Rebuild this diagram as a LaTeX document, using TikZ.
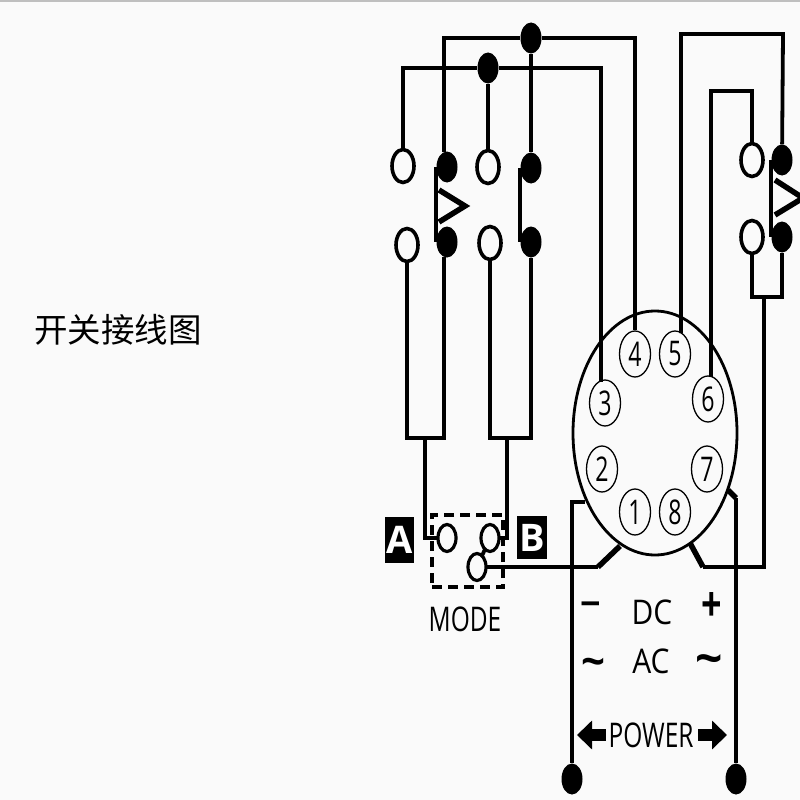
\documentclass[tikz,border=0pt]{standalone}
\usepackage{fontspec}
\usepackage{graphicx}
\setmainfont{Open Sans}
\newfontfamily\cjk{Noto Sans CJK SC}
\usetikzlibrary{shapes.geometric, arrows.meta}
\definecolor{paper}{HTML}{FAFAFA}
\newcommand{\narrow}[2]{\scalebox{#1}[1]{#2}}
\tikzset{
  wire/.style={line width=3.8pt, line join=miter},
  heavy/.style={line width=5.5pt},
  open/.style={draw, ellipse, line width=3.6pt, fill=paper, minimum width=22pt, minimum height=33pt, inner sep=0pt},
  small open/.style={open, line width=3.2pt, minimum width=18pt, minimum height=27pt},
  solid dot/.style={fill=black, ellipse, minimum width=21pt, minimum height=31pt, inner sep=0pt},
  pin/.style={draw, ellipse, line width=1.3pt, fill=paper, minimum width=31pt, minimum height=46pt, inner sep=0pt, font=\fontsize{34}{34}\selectfont},
  tag/.style={fill=black, text=white, inner sep=0pt, font=\fontsize{38}{38}\selectfont\bfseries},
  word/.style={inner sep=0pt, font=\fontsize{34}{34}\selectfont},
  sign/.style={inner sep=0pt, font=\fontsize{36}{36}\selectfont\bfseries}
}
\begin{document}
\begin{tikzpicture}[x=1pt, y=-1pt]
\useasboundingbox (0,0) rectangle (800,800);
\fill[paper] (0,0) rectangle (800,800);
\fill[black!25] (0,0) rectangle (800,2);
% socket
\node[draw, ellipse, line width=2.8pt, minimum width=164pt, minimum height=244pt, inner sep=0pt] (s1) at (655,433) {};
\node[pin] (p1) at (635,512) {\narrow{.68}{1}};
\node[pin] (p2) at (602,469) {\narrow{.68}{2}};
\node[pin] (p3) at (605,403) {\narrow{.68}{3}};
\node[pin] (p4) at (635,354) {\narrow{.68}{4}};
\node[pin] (p5) at (675,354) {\narrow{.68}{5}};
\node[pin] (p6) at (708,399) {\narrow{.68}{6}};
\node[pin] (p7) at (707,469) {\narrow{.68}{7}};
\node[pin] (p8) at (675,512) {\narrow{.68}{8}};
% contacts
\node[open] (t1) at (403,166) {};
\node[solid dot] (t2) at (447,167) {};
\node[open] (t3) at (488,167) {};
\node[solid dot] (t4) at (531,168) {};
\node[open] (t5) at (407,245) {};
\node[solid dot] (t6) at (447,242) {};
\node[open] (t7) at (490,243) {};
\node[solid dot] (t8) at (531,242) {};
\node[open] (r1) at (752,160) {};
\node[solid dot] (r2) at (782,160) {};
\node[open] (r3) at (752,237) {};
\node[solid dot] (r4) at (782,237) {};
\node[solid dot] (j1) at (531,38) {};
\node[solid dot] (j2) at (488,68) {};
\node[solid dot] (d1) at (572,779) {};
\node[solid dot] (d2) at (736,779) {};
% mode switch
\node[draw, dash pattern=on 10pt off 6pt, line width=3.2pt, minimum width=71pt, minimum height=72pt, inner sep=0pt] (box) at (467.5,551) {};
\node[tag, minimum width=29pt, minimum height=46pt] (la) at (399.5,540) {A};
\node[tag, minimum width=30pt, minimum height=43pt] (lb) at (532,537.5) {B};
\node[word] (mode) at (465,619) {\narrow{.72}{MODE}};
% named bends
\coordinate (c0) at (444,152);
\coordinate (c1) at (444,257);
\coordinate (c3) at (601,382);
\coordinate (c5) at (681,333);
\coordinate (c6) at (711,377);
\coordinate (e1) at (752,91);
\coordinate (e2) at (783,34);
\coordinate (e3) at (764,297);
\coordinate (e4) at (703,567);
\coordinate (e5) at (690,543);
\coordinate (f1) at (425,438);
\coordinate (f2) at (507,438);
\coordinate (g1) at (598,567);
\coordinate (g2) at (620,546);
\coordinate (h1) at (585,502);
\coordinate (h2) at (728,490);
\coordinate (h3) at (736,498);
\coordinate (k1) at (577,735);
\coordinate (k2) at (606,735);
\coordinate (k3) at (727,735);
\coordinate (k4) at (698,735);
\coordinate (qa) at (447,538);
\coordinate (qb) at (490,538);
\coordinate (qc) at (477,567);
% wires
\draw[wire] (c0) |- (j1);
\draw[wire] (j1) -| (p4);
\draw[wire] (j1) -- (t4);
\draw[wire] (t1) |- (j2);
\draw[wire] (j2) -| (c3);
\draw[wire] (j2) -- (t3);
\draw[wire] (c5) |- (e2) -- (r2);
\draw[wire] (c6) |- (e1) -- (r1);
\draw[wire] (r3) |- (e3);
\draw[wire] (r4) |- (e3);
\draw[wire] (e3) |- (e4);
\draw[heavy] (e4) -- (e5);
\draw[wire] (t5) |- (f1);
\draw[wire] (c1) |- (f1);
\draw[wire] (t7) |- (f2);
\draw[wire] (t8) |- (f2);
\draw[wire] (g1) -- (qc);
\draw[heavy] (g1) -- (g2);
\draw[wire] (h1) -| (d1);
\draw[heavy] (h2) -- (h3);
\draw[wire] (h3) -- (d2);
\draw[wire] (f1) |- (qa);
\draw[wire] (f2) |- (qb);
\draw[wire] (qc) -- (qb);
\node[small open] (ma) at (qa) {};
\node[small open] (mb) at (qb) {};
\node[small open] (mc) at (qc) {};
% moving contacts
\draw[wire] (t2.west) -- (t6.west);
\draw[wire] (t4.west) -- (t8.west);
\draw[wire] (r2.west) -- (r4.west);
\draw[line width=5.5pt] (439,190) -- (465,206) -- (439,222);
\draw[line width=5.5pt] (775,180) -- (803,198) -- (775,215);
% labels
\node[inner sep=0pt, font=\fontsize{33.5}{33.5}\selectfont\cjk] (title) at (118,330) {开关接线图};
\node[word] (dc) at (652,612) {\narrow{.88}{DC}};
\node[word] (ac) at (651,661) {\narrow{.88}{AC}};
\node[sign] (minus) at (591,609) {−};
\node[sign] (plus) at (712,607) {\scalebox{1}[1.35]{+}};
\node[sign, font=\fontsize{42}{42}\selectfont\bfseries] (tl) at (593,667) {\textasciitilde};
\node[sign, font=\fontsize{48}{48}\selectfont\bfseries] (tr) at (709,665) {\textasciitilde};
\node[word] (power) at (651,735) {\narrow{.72}{POWER}};
\draw[line width=12pt, {Triangle[length=15pt, width=28pt]}-] (k1) -- (k2);
\draw[line width=12pt, {Triangle[length=15pt, width=28pt]}-] (k3) -- (k4);
\end{tikzpicture}
\end{document}
